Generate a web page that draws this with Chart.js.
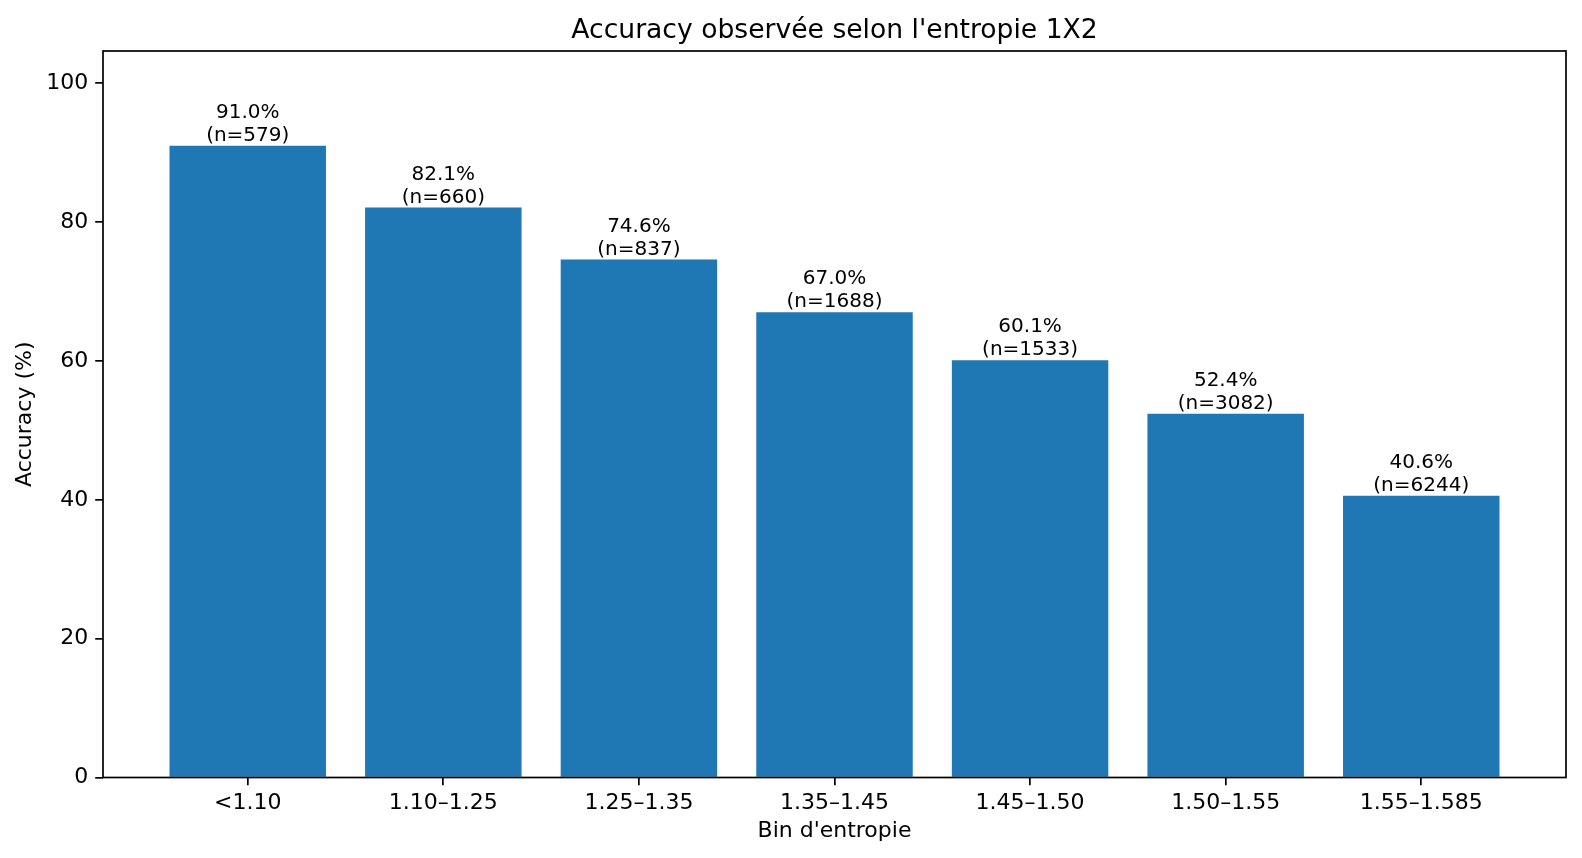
<!DOCTYPE html>
<html>
<head>
<meta charset="utf-8">
<script src="https://cdn.jsdelivr.net/npm/chart.js@4.4.1/dist/chart.umd.min.js"></script>
<style>
  html, body { margin: 0; padding: 0; background: #fff; }
  #wrap { width: 1582px; height: 858px; }
</style>
</head>
<body>
<div id="wrap"><canvas id="chart"></canvas></div>
<script>
const bins = ["<1.10", "1.10–1.25", "1.25–1.35", "1.35–1.45", "1.45–1.50", "1.50–1.55", "1.55–1.585"];
const accuracy = [91.0, 82.1, 74.6, 67.0, 60.1, 52.4, 40.6];
const counts = [579, 660, 837, 1688, 1533, 3082, 6244];
const yTicks = [0, 20, 40, 60, 80, 100];
const chartTitle = "Accuracy observée selon l'entropie 1X2";

const FONT = "'DejaVu Sans', sans-serif";
const INK = "#000";
const BAR = "#1f77b4";

// cadre complet + titre centré sur la zone de tracé
const framePlugin = {
  id: "frame",
  afterDatasetsDraw(chart) {
    const { ctx, chartArea: a } = chart;
    ctx.save();
    ctx.strokeStyle = INK;
    ctx.lineWidth = 1.7;
    ctx.strokeRect(a.left, a.top, a.right - a.left, a.bottom - a.top);
    ctx.font = `26.6px ${FONT}`;
    ctx.fillStyle = INK;
    ctx.textAlign = "center";
    ctx.textBaseline = "alphabetic";
    ctx.fillText(chartTitle, (a.left + a.right) / 2, 37.5);
    ctx.restore();
  }
};

// étiquettes "xx.x%\n(n=...)" au-dessus des barres
const barLabels = {
  id: "barLabels",
  afterDatasetsDraw(chart) {
    const { ctx } = chart;
    const meta = chart.getDatasetMeta(0);
    ctx.save();
    ctx.font = `20px ${FONT}`;
    ctx.fillStyle = INK;
    ctx.textAlign = "center";
    ctx.textBaseline = "alphabetic";
    meta.data.forEach((bar, i) => {
      const y = bar.y - 5;
      ctx.fillText(`(n=${counts[i]})`, bar.x, y);
      ctx.fillText(`${accuracy[i].toFixed(1)}%`, bar.x, y - 23);
    });
    ctx.restore();
  }
};

const tickGrid = {
  drawOnChartArea: false,
  drawTicks: true,
  tickLength: 7.8,
  color: INK,
  lineWidth: 1.7,
  offset: false
};

new Chart(document.getElementById("chart"), {
  type: "bar",
  data: {
    datasets: [{
      data: accuracy.map((v, i) => ({ x: i, y: v })),
      backgroundColor: BAR,
      borderWidth: 0,
      barPercentage: 0.8,
      categoryPercentage: 1.0
    }]
  },
  options: {
    responsive: true,
    maintainAspectRatio: false,
    animation: false,
    layout: { padding: { left: 0, right: 16, top: 51, bottom: 0 } },
    plugins: {
      legend: { display: false },
      tooltip: { enabled: false },
      title: { display: false }
    },
    scales: {
      x: {
        type: "linear",
        offset: false,
        min: -0.74,
        max: bins.length - 1 + 0.74,
        afterBuildTicks: axis => { axis.ticks = bins.map((b, i) => ({ value: i })); },
        afterFit: scale => { scale.height = 80.5; },
        grid: tickGrid,
        border: { display: false },
        ticks: {
          color: INK,
          font: { family: FONT, size: 22 },
          padding: 5,
          maxRotation: 0,
          autoSkip: false,
          callback: v => bins[v] ?? ""
        },
        title: {
          display: true,
          text: "Bin d'entropie",
          color: INK,
          font: { family: FONT, size: 22 },
          padding: { top: 0, bottom: 13.5 }
        }
      },
      y: {
        min: 0,
        max: Math.max(...accuracy) * 1.15,
        afterBuildTicks: axis => { axis.ticks = yTicks.map(v => ({ value: v })); },
        afterFit: scale => { scale.width = 103; },
        grid: tickGrid,
        border: { display: false },
        ticks: {
          color: INK,
          font: { family: FONT, size: 22 },
          padding: 7,
          callback: v => String(v)
        },
        title: {
          display: true,
          text: "Accuracy (%)",
          color: INK,
          font: { family: FONT, size: 22 },
          padding: { top: 12, bottom: 0 }
        }
      }
    }
  },
  plugins: [framePlugin, barLabels]
});
</script>
</body>
</html>
